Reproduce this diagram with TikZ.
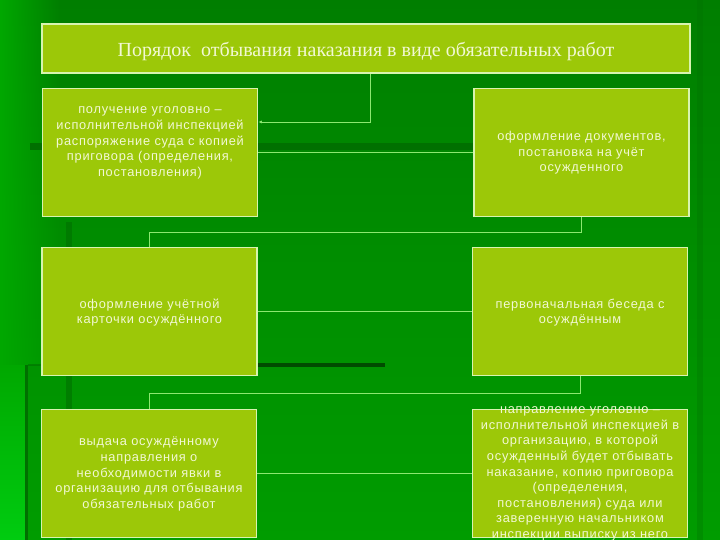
\documentclass[tikz,border=0pt]{standalone}
\usepackage{fontspec}
\setmainfont{Liberation Sans}[LetterSpace=6]
\newfontfamily\titlefont{Liberation Serif}
\usetikzlibrary{arrows.meta,fadings}
\definecolor{bgtop}{HTML}{007E00}
\definecolor{bgmid}{HTML}{008E00}
\definecolor{bgbot}{HTML}{009C00}
\definecolor{bgdark}{HTML}{007000}
\definecolor{bgdeep}{HTML}{004C00}
\definecolor{bgleft}{HTML}{00A800}
\definecolor{bgbright}{HTML}{00CC10}
\definecolor{boxfill}{HTML}{9CC808}
\definecolor{boxline}{HTML}{D8F4B0}
\definecolor{txtcol}{HTML}{F2F8D4}
\definecolor{conncol}{HTML}{8CE870}
\tikzset{
  stepbox/.style={draw=boxline, fill=boxfill, line width=1.6pt, inner sep=0pt, minimum width=215pt, minimum height=128pt},
  boxtext/.style={text=txtcol, align=center, font=\fontsize{12.8}{15.6}\selectfont, inner sep=0pt},
  conn/.style={draw=conncol, line width=0.9pt}
}
\begin{document}
\begin{tikzpicture}[x=1pt,y=-1pt]
\useasboundingbox (0,0) rectangle (720,540);
\clip (0,0) rectangle (720,540);
% background
\shade[top color=bgtop, bottom color=bgbot, middle color=bgmid] (0,0) rectangle (720,540);
\fill[bgleft, path fading=east] (0,0) rectangle (60,365);
\shade[top color=bgleft, bottom color=bgbright] (0,365) rectangle (25,540);
\fill[bgdark] (25,365) rectangle (28,540);
\fill[bgdark, opacity=0.6] (66,222) rectangle (72,540);
\fill[bgdark, opacity=0.3] (697,0) rectangle (703,540);
\fill[bgdark, opacity=0.6] (28,364) rectangle (258,366);
\fill[bgdark] (30,143) rectangle (473,150);
\fill[bgdeep] (258,363) rectangle (385,367);
% boxes
\node[stepbox, minimum width=648pt, minimum height=49pt] (title) at (366,48.5) {};
\node[text=txtcol, font=\titlefont\fontsize{20}{22}\selectfont, inner sep=0pt] (titletext) at (366,51) {Порядок\ \ отбывания наказания в виде обязательных работ};
\node[stepbox] (b1) at (150,152.5) {};
\node[stepbox] (b2) at (581.5,152.5) {};
\node[stepbox] (b3) at (149.5,311.5) {};
\node[stepbox] (b4) at (580,311.5) {};
\node[stepbox] (b5) at (149,473.5) {};
\node[stepbox] (b6) at (580,473.5) {};
\node[boxtext] (t1) at (150,143) {получение уголовно –\\исполнительной инспекцией\\распоряжение суда с копией\\приговора (определения,\\постановления)};
\node[boxtext] (t2) at (581.5,153) {оформление документов,\\постановка на учёт\\осужденного};
\node[boxtext] (t3) at (149.5,312.5) {оформление учётной\\карточки осуждённого};
\node[boxtext] (t4) at (580,312.5) {первоначальная беседа с\\осуждённым};
\node[boxtext] (t5) at (149,474) {выдача осуждённому\\направления о\\необходимости явки в\\организацию для отбывания\\обязательных работ};
\node[boxtext] (t6) at (580,474) {направление уголовно –\\исполнительной инспекцией в\\организацию, в которой\\осужденный будет отбывать\\наказание, копию приговора\\(определения,\\постановления) суда или\\заверенную начальником\\инспекции выписку из него};
% connectors
\coordinate (j1) at (370,122);
\coordinate (j2) at (149,232);
\coordinate (j3) at (149,393);
\draw[conn, -{Latex[length=3.5pt,width=3pt]}] (title.south -| j1) -- (j1) -- (b1.east |- j1);
\draw[conn] (b1.east) -- (b2.west);
\draw[conn] (b2.south) |- (j2) -- (j2 |- b3.north);
\draw[conn] (b3.east) -- (b4.west);
\draw[conn] (b4.south) |- (j3) -- (j3 |- b5.north);
\draw[conn] (b5.east) -- (b6.west);
\end{tikzpicture}
\end{document}
